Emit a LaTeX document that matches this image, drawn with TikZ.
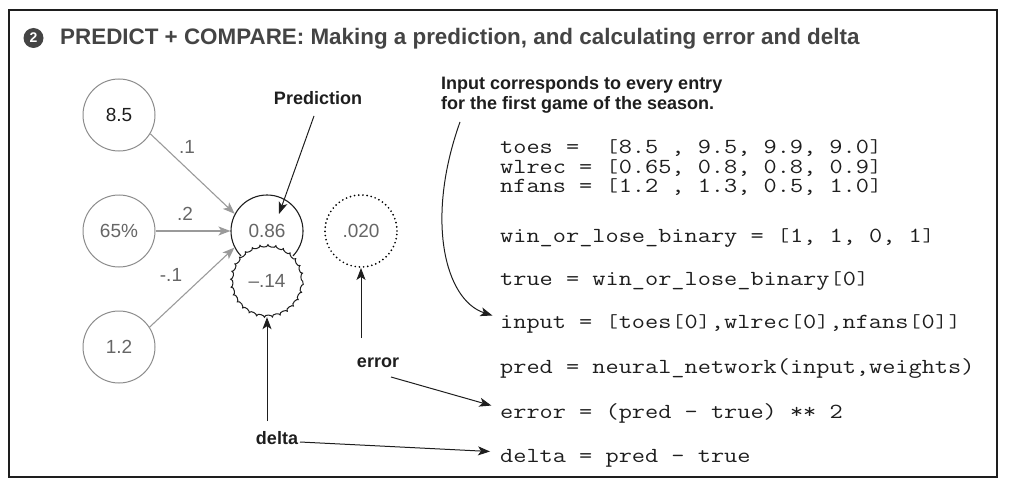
\documentclass[tikz,border=0pt]{standalone}
\usepackage{fontspec}
\setmainfont{Liberation Sans}
\newfontfamily\codefont{Latin Modern Mono}[FakeStretch=1.19]
\newcommand{\cbo}{\makebox[13.14pt]{\raisebox{0.8pt}{\fontsize{18.5}{18}\selectfont[}}}
\newcommand{\cbc}{\makebox[13.14pt]{\raisebox{0.8pt}{\fontsize{18.5}{18}\selectfont]}}}
\usetikzlibrary{arrows.meta,decorations.pathmorphing,calc}
\definecolor{numgray}{HTML}{666666}
\definecolor{arrgray}{HTML}{9A9A9A}
\definecolor{circgray}{HTML}{8C8C8C}
\definecolor{titlegray}{HTML}{444444}
\definecolor{ink}{HTML}{1E1E1E}
\begin{document}
\begin{tikzpicture}[x=1pt,y=-1pt,
  incirc/.style={circle, draw=circgray, line width=1pt, minimum size=72pt, inner sep=0pt, text=numgray, font=\fontsize{19}{22}\selectfont},
  outcirc/.style={circle, draw=ink, line width=1.1pt, minimum size=72pt, inner sep=0pt, fill=white, text=numgray, font=\fontsize{19}{22}\selectfont},
  dotcirc/.style={circle, draw=black, line width=1.9pt, line cap=round, dash pattern=on 0pt off 4.2pt, minimum size=72pt, inner sep=0pt, text=numgray, font=\fontsize{19}{22}\selectfont},
  deltacirc/.style={circle, fill=white, minimum size=72pt, inner sep=0pt, text=numgray, font=\fontsize{19}{22}\selectfont},
  wavy/.style={draw=ink, line width=1pt, decorate, decoration={bumps, segment length=15.7pt, amplitude=1.6pt}},
  wlab/.style={text=numgray, inner sep=0pt, font=\fontsize{19}{22}\selectfont},
  lab/.style={text=ink, inner sep=1pt, font=\bfseries\fontsize{18}{20}\selectfont},
  codeline/.style={anchor=base west, inner sep=0pt, text height=20pt, text depth=0pt, text=ink, font=\codefont\fontsize{21.5}{22}\selectfont},
  tightline/.style={codeline, text height=12pt},
  garrow/.style={draw=arrgray, line width=1.1pt, -{Stealth[length=12pt,width=9pt,inset=3pt]}},
  barrow/.style={draw=ink, line width=1pt, -{Stealth[length=12pt,width=9pt,inset=3pt]}}
]
\useasboundingbox (0,0) rectangle (1009,484);
\draw[line width=1.2pt, ink] (9,10) rectangle (997,477);

% title
\node[circle, fill=titlegray, text=white, minimum size=20pt, inner sep=0pt, font=\bfseries\fontsize{14}{14}\selectfont] (badge) at (33.5,38) {2};
\node[anchor=base west, inner sep=0pt, text=titlegray, font=\bfseries\fontsize{22.4}{26}\selectfont] (ttl) at (60,44.5) {PREDICT + COMPARE: Making a prediction, and calculating error and delta};

% input circles
\node[incirc, text=ink] (i1) at (119,115) {8.5};
\node[incirc] (i2) at (119,231) {65\%};
\node[incirc] (i3) at (119,347) {1.2};

% output circles
\node[outcirc] (pd) at (267,231) {0.86};
\node[deltacirc] (dl) at (267,281) {--.14};
\draw[wavy] (dl.center) circle[radius=35.5pt];
\node[dotcirc] (er) at (361,231) {.020};

% weights
\node[wlab] (w1) at (187,147) {.1};
\node[wlab] (w2) at (185,214) {.2};
\node[wlab] (w3) at (171,275) {-.1};

\draw[garrow] (i1.-31) -- (pd.152);
\draw[garrow] (i2.east) -- (pd.west);
\draw[garrow] (i3.33) -- (pd.207);

% labels
\node[lab, anchor=base] (plab) at (318,105) {Prediction};
\node[lab, anchor=base] (elab) at (378,367) {error};
\node[lab, anchor=base] (dlab) at (277,444) {delta};
\node[lab, anchor=base west, inner sep=0pt] (in1) at (441,90) {Input corresponds to every entry};
\node[lab, anchor=base west, inner sep=0pt] (in2) at (441,110) {for the first game of the season.};

% code
\node[tightline] (ctoes) at (500,153.5) {toes =\ \ \cbo8.5 , 9.5, 9.9, 9.0\cbc};
\node[tightline] (cwl) at (500,173) {wlrec = \cbo0.65, 0.8, 0.8, 0.9\cbc};
\node[tightline] (cnf) at (500,192.5) {nfans = \cbo1.2 , 1.3, 0.5, 1.0\cbc};
\node[codeline] (cwin) at (500,242) {win\_or\_lose\_binary = \cbo1, 1, 0, 1\cbc};
\node[codeline] (ctrue) at (500,285) {true = win\_or\_lose\_binary\cbo0\cbc};
\node[codeline] (cin) at (500,328) {input = \cbo toes\cbo0\cbc,wlrec\cbo0\cbc,nfans\cbo0\cbc\cbc};
\node[codeline] (cpred) at (500,373) {pred = neural\_network(input,weights)};
\node[codeline] (cerr) at (500,418) {error = (pred - true) ** 2};
\node[codeline] (cdel) at (500,462) {delta = pred - true};

% connector endpoints
\coordinate (ps) at (314,116);
\coordinate (pt) at (279,214);
\coordinate (eu) at (361,338);
\coordinate (es) at (391,377);
\coordinate (du) at (267,421);
\coordinate (dr) at (300,442);
\coordinate (cs) at (460,122);

\draw[barrow] (ps) -- (pt);
\draw[barrow] (eu) -- (er.south);
\draw[barrow, shorten >=9pt] (es) -- (cerr.west);
\draw[barrow] (du) -- (dl.south);
\draw[barrow, shorten >=10pt] (dr) -- (cdel.west);
\draw[barrow, shorten >=8pt] (cs) .. controls (425,220) and (445,300) .. (cin.west);
\end{tikzpicture}
\end{document}
